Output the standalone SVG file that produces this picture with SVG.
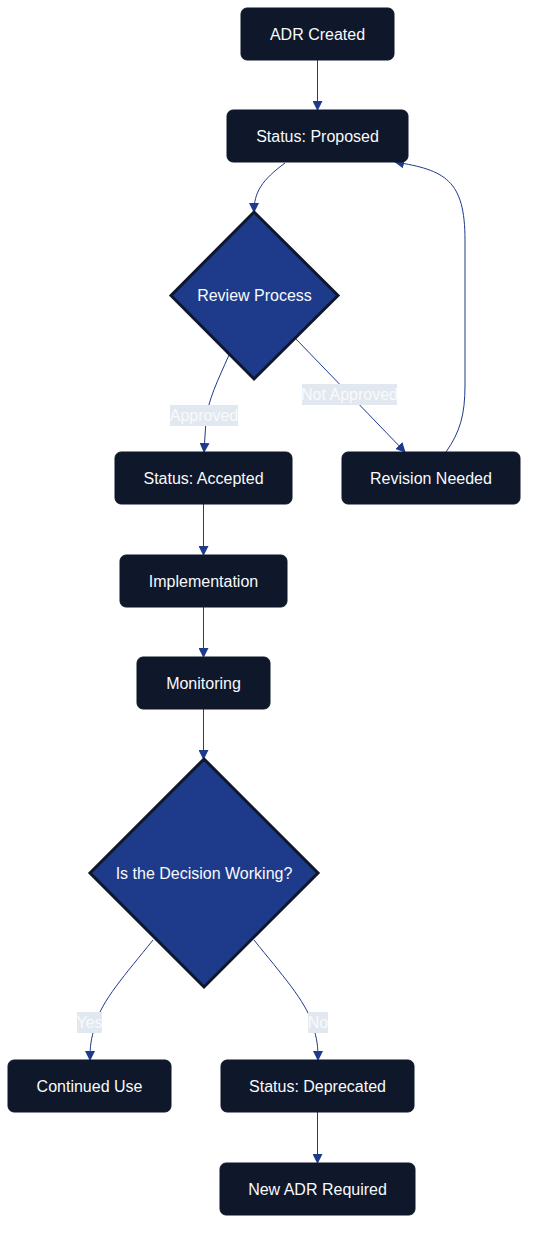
<svg xmlns="http://www.w3.org/2000/svg" width="537" height="1242" viewBox="0 0 537 1242">
<style>
.box{fill:#0f172a;stroke:#0f172a;stroke-width:1}
.dia{fill:#1e3a8a;stroke:#0f172a;stroke-width:3}
.t{font-family:"Liberation Sans",Arial,sans-serif;font-size:16px;fill:#f8fafc;text-anchor:middle;dominant-baseline:central}
.e{fill:none;stroke:#1e3a8a;stroke-width:1}
.lb{fill:#e2e8f0}
.lt{font-family:"Liberation Sans",Arial,sans-serif;font-size:16px;fill:#f8fafc;text-anchor:middle;dominant-baseline:central}
</style>
<defs>
<marker id="ah" viewBox="0 0 10 10" refX="9" refY="5" markerWidth="10" markerHeight="10" markerUnits="userSpaceOnUse" orient="auto">
<path d="M0,0 L10,5 L0,10 z" fill="#1e3a8a"/>
</marker>
</defs>
<g id="edges">
<path class="e" d="M317.5,60 L317.5,110" marker-end="url(#ah)"/>
<path class="e" d="M285,163 C262,180 254,192 254,212" marker-end="url(#ah)"/>
<path class="e" d="M229,355 C218,380 208,400 206,420 L204,452" marker-end="url(#ah)"/>
<path class="e" d="M296,339 L405,452" marker-end="url(#ah)"/>
<path class="e" d="M446,452 C460,432 465,415 465,385 L465,240 C465,180 445,170 395,162" marker-end="url(#ah)"/>
<path class="e" d="M203.5,504 L203.5,555" marker-end="url(#ah)"/>
<path class="e" d="M203.5,607 L203.5,657" marker-end="url(#ah)"/>
<path class="e" d="M203.5,709 L203.5,759" marker-end="url(#ah)"/>
<path class="e" d="M153,940 C125,975 102,1000 95,1025 C91,1040 90,1045 90,1060" marker-end="url(#ah)"/>
<path class="e" d="M254,940 C282,975 305,1000 313,1025 C317,1040 318,1045 318,1060" marker-end="url(#ah)"/>
<path class="e" d="M317.5,1112 L317.5,1163" marker-end="url(#ah)"/>
<rect class="lb" x="170" y="405" width="68" height="21"/>
<text class="lt" x="204" y="415.5">Approved</text>
<rect class="lb" x="302" y="384" width="95" height="21"/>
<text class="lt" x="349.5" y="394.5">Not Approved</text>
<rect class="lb" x="77" y="1012" width="25" height="21"/>
<text class="lt" x="89.5" y="1022.5">Yes</text>
<rect class="lb" x="308" y="1012" width="20" height="21"/>
<text class="lt" x="318" y="1022.5">No</text>
</g>
<g id="n-adr-created"><rect class="box" x="241" y="8" width="153" height="52" rx="6"/><text class="t" x="317.5" y="34">ADR Created</text></g>
<g id="n-proposed"><rect class="box" x="227" y="110" width="181" height="52" rx="6"/><text class="t" x="317.5" y="136">Status: Proposed</text></g>
<g id="n-review"><polygon class="dia" points="254,212 338,295.5 254,379 171,295.5"/><text class="t" x="254.5" y="295.5">Review Process</text></g>
<g id="n-accepted"><rect class="box" x="115" y="452" width="177" height="52" rx="6"/><text class="t" x="203.5" y="478">Status: Accepted</text></g>
<g id="n-revision"><rect class="box" x="342" y="452" width="178" height="52" rx="6"/><text class="t" x="431" y="478">Revision Needed</text></g>
<g id="n-implementation"><rect class="box" x="120" y="555" width="167" height="52" rx="6"/><text class="t" x="203.5" y="581">Implementation</text></g>
<g id="n-monitoring"><rect class="box" x="137" y="657" width="133" height="52" rx="6"/><text class="t" x="203.5" y="683">Monitoring</text></g>
<g id="n-decision"><polygon class="dia" points="204,759 318,873 204,987 90,873"/><text class="t" x="204" y="873">Is the Decision Working?</text></g>
<g id="n-continued"><rect class="box" x="8" y="1060" width="163" height="52" rx="6"/><text class="t" x="89.5" y="1086">Continued Use</text></g>
<g id="n-deprecated"><rect class="box" x="221" y="1060" width="193" height="52" rx="6"/><text class="t" x="317.5" y="1086">Status: Deprecated</text></g>
<g id="n-new-adr"><rect class="box" x="220" y="1163" width="195" height="52" rx="6"/><text class="t" x="317.5" y="1189">New ADR Required</text></g>
</svg>
